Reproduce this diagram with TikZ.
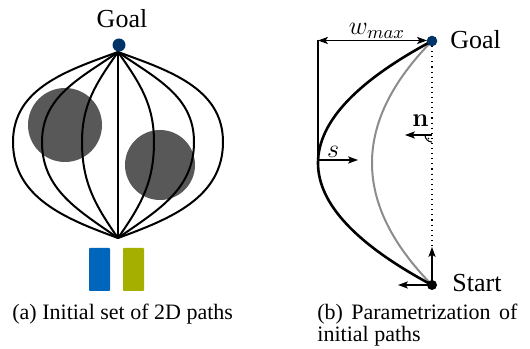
\RequirePackage{fix-cm}
\documentclass[tikz,border=0pt]{standalone}
\usepackage[no-math]{fontspec}
\setmainfont{Liberation Serif}
\usetikzlibrary{arrows.meta}
\definecolor{navy}{RGB}{0,51,102}
\definecolor{obstgray}{RGB}{88,88,88}
\definecolor{robotblue}{RGB}{0,102,187}
\definecolor{robotgreen}{RGB}{165,175,0}
\definecolor{midgray}{RGB}{140,140,140}
\tikzset{
  lbl/.style={font=\fontsize{13}{15}\selectfont, inner sep=0pt},
  captext/.style={font=\fontsize{11}{13}\selectfont, inner sep=0pt},
  apath/.style={line width=1pt},
  thinline/.style={line width=0.55pt},
  tip/.style={-{Stealth[length=5pt,width=3.6pt,inset=1.2pt]}},
  dtip/.style={{Stealth[length=5pt,width=3.6pt,inset=1.2pt]}-{Stealth[length=5pt,width=3.6pt,inset=1.2pt]}},
  gdot/.style={circle, fill=navy, inner sep=0pt},
  sdot/.style={circle, fill=black, inner sep=0pt}
}
\begin{document}
\begin{tikzpicture}[x=0.5pt,y=0.5pt]
\useasboundingbox (0,0) rectangle (530,348);
% ---------- panel (a) ----------
\fill[obstgray] (65,223) circle (37);
\fill[obstgray] (160,183) circle (35);
\coordinate (aT) at (118,296);
\coordinate (aB) at (118,110);
\foreach \w/\o in {105/20, 76/35, 36/55} {
  \draw[apath] (aT) to[out=180+\o, in=90] ({118-\w},206) to[out=-90, in=180-\o] (aB);
  \draw[apath] (aT) to[out=-\o, in=90] ({118+\w},206) to[out=-90, in=\o] (aB);
}
\draw[apath] (aT) -- (aB);
\node[gdot, minimum size=6.5pt] (aGoal) at (119,303) {};
\node[lbl, anchor=base] (aGoalLbl) at (122,320) {Goal};
\fill[robotblue, rounded corners=0.4pt] (89,57) rectangle (110,100);
\fill[robotgreen, rounded corners=0.4pt] (123,57) rectangle (144,100);
\node[captext, anchor=base west] (capA) at (12,28) {(a) Initial set of 2D paths};
% ---------- panel (b) ----------
\coordinate (bG) at (432,307);
\coordinate (bS) at (432,63);
\coordinate (bUp) at (432,101);
\coordinate (bLeft) at (398,63);
\coordinate (wL) at (318,307.5);
\coordinate (wR) at (427,307.5);
\coordinate (vB) at (318,185);
\coordinate (sE) at (358,188);
\coordinate (sS) at (318,188);
\coordinate (nS) at (432,213);
\coordinate (nE) at (405,213);
\draw[midgray, line width=1pt] (bG) .. controls (352,225.7) and (352,144.3) .. (bS);
\draw[line width=1.3pt] (bG) .. controls (280,225.7) and (280,144.3) .. (bS);
\draw[thinline] (wL) -- (vB);
\draw[thinline, dtip] (wL) -- (wR);
\draw[thinline, dotted] (bG) -- (bUp);
\draw[thinline, tip] (bS) -- (bUp);
\draw[thinline, tip] (bS) -- (bLeft);
\draw[thinline, tip] (nS) -- (nE);
\draw[thinline] (425,213) arc[start angle=180, end angle=270, radius=7];
\fill (428.5,209.5) circle (0.9);
\draw[thinline, tip] (sS) -- (sE);
\node[gdot, minimum size=5.3pt] (bGoal) at (bG) {};
\node[sdot, minimum size=5pt] (bStart) at (bS) {};
\node[lbl, anchor=base west] (bGoalLbl) at (450,299) {Goal};
\node[lbl, anchor=base west] (bStartLbl) at (452,56) {Start};
\node[lbl, anchor=base] (wLbl) at (377,313) {$w_{max}$};
\node[lbl, anchor=base] (sLbl) at (333,190) {$s$};
\node[lbl, anchor=base] (nLbl) at (420.5,221) {$\mathbf{n}$};
\node[captext, anchor=base west] (capB1) at (317,28) {\makebox[100pt][s]{(b) Parametrization of}};
\node[captext, anchor=base west] (capB2) at (317,6.5) {initial paths};
\end{tikzpicture}
\end{document}
